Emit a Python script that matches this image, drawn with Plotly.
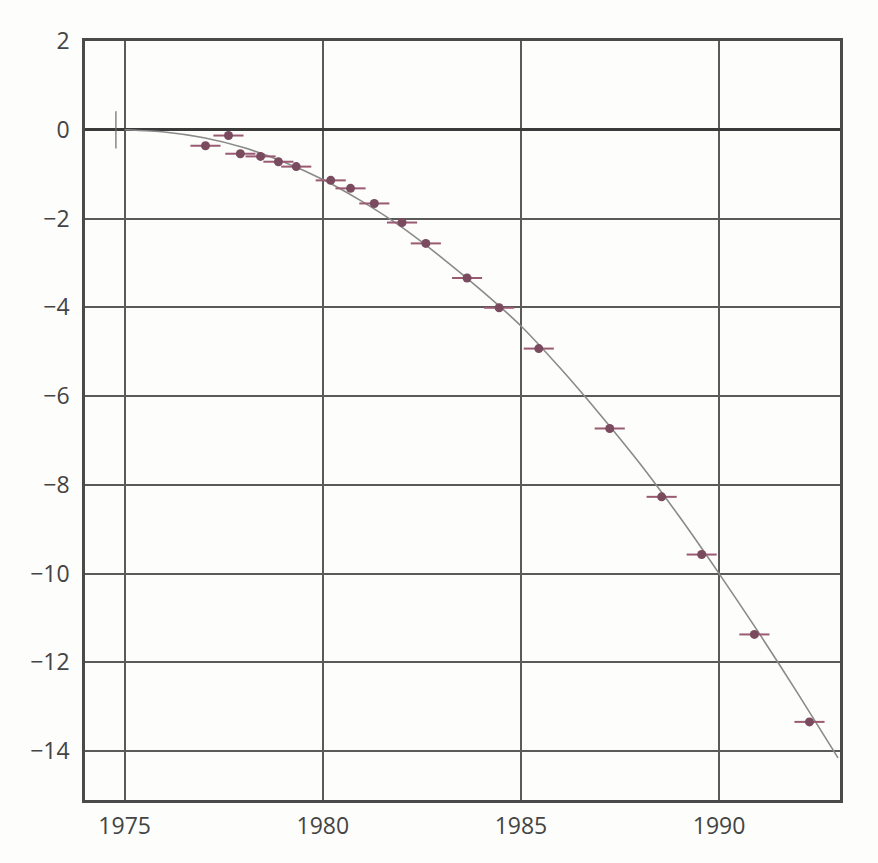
import plotly.graph_objects as go

# Measured cumulative shift of periastron time (seconds) by epoch
obs_year = [1977.04, 1977.62, 1977.92, 1978.43, 1978.88, 1979.33, 1980.20, 1980.70,
            1981.30, 1982.00, 1982.60, 1983.64, 1984.45, 1985.45, 1987.24, 1988.55,
            1989.56, 1990.89, 1992.28]
obs_shift = [-0.36, -0.13, -0.54, -0.60, -0.72, -0.83, -1.14, -1.32,
             -1.66, -2.09, -2.56, -3.34, -4.01, -4.93, -6.73, -8.27,
             -9.57, -11.37, -13.34]
obs_xerr = [0.38] * len(obs_year)

# Predicted curve, sampled once per year
curve_year = [1975, 1976, 1977, 1978, 1979, 1980, 1981, 1982, 1983, 1984,
              1985, 1986, 1987, 1988, 1989, 1990, 1991, 1992, 1993]
curve_shift = [0.0, -0.05, -0.18, -0.40, -0.72, -1.12, -1.62, -2.20, -2.88, -3.62,
               -4.42, -5.38, -6.42, -7.52, -8.72, -10.0, -11.33, -12.72, -14.15]

# Reference epoch marker
ref_year = [1974.78]
ref_shift = [0.0]
ref_err = [0.42]

x_ticks = [1975, 1980, 1985, 1990]
y_ticks = [2, 0, -2, -4, -6, -8, -10, -12, -14]
y_labels = ["2", "0", "\u22122", "\u22124", "\u22126", "\u22128", "\u221210", "\u221212", "\u221214"]

grid = "#5a5a5a"

fig = go.Figure()

fig.add_trace(go.Scatter(
    x=curve_year, y=curve_shift, mode="lines",
    line=dict(color="#8a8a8a", width=1.6, shape="spline", smoothing=0.6),
    hoverinfo="skip", showlegend=False,
))

fig.add_trace(go.Scatter(
    x=ref_year, y=ref_shift, mode="markers",
    marker=dict(size=1, color="rgba(0,0,0,0)"),
    error_y=dict(type="data", array=ref_err, color="#6a6a6a", thickness=1.2, width=0),
    showlegend=False,
))

fig.add_trace(go.Scatter(
    x=obs_year, y=obs_shift, mode="markers",
    marker=dict(size=9, color="#7a4a5e", line=dict(width=0)),
    error_x=dict(type="data", array=obs_xerr, color="#9a5a72", thickness=2, width=0),
    showlegend=False,
))

fig.update_layout(
    width=878, height=863,
    margin=dict(l=85, r=38, t=41, b=63),
    paper_bgcolor="#fdfdfb",
    plot_bgcolor="#fdfdfb",
    font=dict(family="Open Sans, DejaVu Sans, sans-serif", size=23, color="#444444"),
)

fig.update_xaxes(
    range=[1974.0, 1993.05], tickvals=x_ticks, ticktext=[str(v) for v in x_ticks],
    tickfont=dict(size=23),
    showgrid=True, gridcolor=grid, gridwidth=1.5,
    showline=True, linecolor="#4a4a4a", linewidth=2.5, mirror=True,
    zeroline=False, ticks="", ticklabelstandoff=4,
)
fig.update_yaxes(
    range=[-15.1, 2.0], tickvals=y_ticks, ticktext=y_labels,
    tickfont=dict(size=23),
    showgrid=True, gridcolor=grid, gridwidth=1.7,
    showline=True, linecolor="#4a4a4a", linewidth=2.5, mirror=True,
    zeroline=True, zerolinecolor="#3a3a3a", zerolinewidth=3,
    ticks="", ticklabelstandoff=8,
)

fig.write_html("out.html")
